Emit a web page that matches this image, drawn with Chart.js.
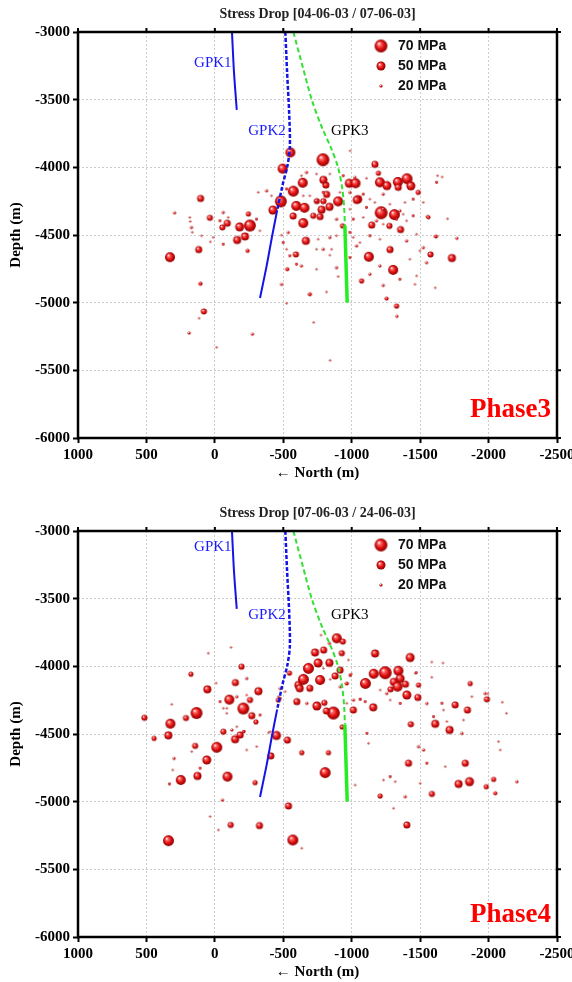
<!DOCTYPE html>
<html>
<head>
<meta charset="utf-8">
<script src="https://cdn.jsdelivr.net/npm/chart.js@4.4.1/dist/chart.umd.min.js"></script>
<style>
html, body { margin: 0; padding: 0; background: #fff; overflow: hidden; }
.box { position: absolute; left: 0; width: 572px; height: 499px; }
</style>
</head>
<body>
<div class="box" style="top:0"><canvas id="phase3" width="572" height="499"></canvas></div>
<div class="box" style="top:499px"><canvas id="phase4" width="572" height="499"></canvas></div>
<script>
// Axis ticks
const xTicks = [1000, 500, 0, -500, -1000, -1500, -2000, -2500];
const yTicks = [-3000, -3500, -4000, -4500, -5000, -5500, -6000];

// Well trajectories (North, Depth)
const gpk1X = [-125, -140, -160];
const gpk1Y = [-3000, -3300, -3575];
const gpk2DashX = [-515, -528, -543, -548, -530, -495, -455];
const gpk2DashY = [-3000, -3300, -3600, -3850, -3990, -4130, -4320];
const gpk2SolidX = [-455, -420, -378, -330];
const gpk2SolidY = [-4320, -4500, -4730, -4965];
const gpk3DashX = [-574, -640, -708, -780, -850, -900, -930, -945, -950];
const gpk3DashY = [-3000, -3250, -3500, -3700, -3860, -4000, -4150, -4300, -4430];
const gpk3SolidX = [-950, -958, -967];
const gpk3SolidY = [-4430, -4700, -5000];

// Legend
const legendMPa = [70, 50, 20];

// Phase 3 events: North (m), Depth (m), stress drop (MPa)
const p3X = [
  -552, -790, -495, -1170, -642, -573, -482, -424, -595, -655,
  -811, -982, -1028, -901, -1047, -1206, -1257, -1337, -1404, -1432,
  -1340, -1215, -1312, -780, -838, -646, -572, -719, -256, -181,
  -220, -163, -91, -55, 36, 104, 294, 328, 118, -239,
  -665, -592, -529, -933, -1125, -1303, -1280, -1357, -1146, -1276,
  -1576, -1732, -1072, -1328, -1255, 80, 105, 188, -275, -694,
  -722, -816, -1133, -1230, -1615, -1552, -1486, -1627, -1523, -1462,
  -1206, -889, -901, -487, -524, -13, -842, -1330, -988, -1661,
  -1195, -1037, -1561, -1768, -1700, -793, -817, -793, -769, -745,
  -245, 33, 180, 165, -1610, 115,
  -597, -743, -633, -840, -987, -1060, -1035, -1011, -987, -889,
  -840, -755, -499, -487, -536, -524, -548, -743, -792, -853,
  -1133, -1206, -1401, -1474, -1449, -1401, -1352, -1389, -1449, -1279,
  -1230, -1133, -1084, -1108, -1023, -840, -938, -743, -670, -633,
  -792, -694, -743, -646, -524, -414, -378, -317, -304, -329,
  -61, -97, -37, 183, 171, 12, -61, 97, -889, -987,
  -1011, -1084, -1181, -1230, -1328, -1376, -987, -914, -1108, -1169,
  -1230, -1523, -1620, -1498, -1547, -1425, -1352, -1474
];
const p3Y = [
  -3890, -3944, -4010, -3978, -4114, -4176, -4252, -4316, -4285, -4299,
  -4131, -4118, -4118, -4252, -4235, -4111, -4135, -4108, -4084, -4137,
  -4148, -4336, -4349, -4313, -4292, -4412, -4360, -4358, -4430, -4440,
  -4511, -4537, -4413, -4444, -4373, -4230, -4336, -4664, -4608, -4617,
  -4543, -4644, -4753, -4432, -4661, -4758, -4608, -4460, -4427, -4433,
  -4644, -4670, -4839, -5025, -4970, -5065, -4860, -5224, -5232, -4938,
  -5146, -4921, -4790, -4872, -4511, -4363, -4185, -4062, -4593, -4864,
  -4728, -4741, -4807, -4864, -5005, -5330, -5426, -5100, -3878, -4071,
  -4043, -4241, -4369, -4524, -4380, -4093, -4200, -4250, -4364, -4250,
  -4344, -4550, -4400, -4480, -4890, -5115,
  -4716, -4753, -4728, -4649, -4667, -4556, -4580, -4518, -4481, -4506,
  -4518, -4531, -4556, -4501, -4481, -4605, -4654, -4605, -4605, -4605,
  -4506, -4531, -4543, -4494, -4358, -4395, -4321, -4259, -4235, -4272,
  -4198, -4235, -4198, -4081, -4074, -4049, -4062, -4049, -4037, -4062,
  -4185, -4210, -4247, -4210, -4160, -4210, -4173, -4185, -4383, -4469,
  -4333, -4370, -4395, -4370, -4444, -4518, -4568, -4506, -4383, -4309,
  -4383, -4370, -4395, -4420, -4383, -4346, -4185, -4185, -4296, -4259,
  -4309, -4259, -4111, -4617, -4704, -4679, -4827, -4802
];
const p3S = [
  55, 70, 55, 40, 55, 60, 65, 50, 55, 55,
  40, 50, 55, 55, 45, 55, 50, 55, 60, 50,
  40, 70, 60, 45, 45, 55, 40, 35, 65, 50,
  45, 45, 40, 35, 35, 40, 20, 55, 40, 25,
  45, 35, 25, 30, 55, 55, 40, 40, 40, 35,
  35, 45, 30, 30, 25, 35, 25, 20, 20, 25,
  15, 15, 20, 20, 25, 20, 30, 15, 20, 15,
  20, 20, 15, 20, 15, 15, 15, 20, 15, 15,
  30, 45, 25, 20, 15, 45, 40, 35, 40, 35,
  30, 15, 15, 15, 15, 15,
  18, 15, 20, 15, 18, 15, 20, 15, 18, 15,
  20, 15, 18, 15, 20, 15, 18, 15, 20, 15,
  18, 15, 20, 15, 18, 15, 20, 15, 18, 15,
  20, 15, 18, 15, 20, 15, 18, 15, 20, 15,
  18, 15, 20, 15, 18, 15, 20, 15, 18, 15,
  20, 15, 18, 15, 20, 15, 18, 15, 20, 15,
  18, 15, 20, 15, 18, 15, 20, 15, 18, 15,
  20, 15, 18, 15, 20, 15, 18, 15
];

// Phase 4 events
const p4X = [
  -118, 48, -195, 175, -150, 55, -318, -106, -257, -208,
  134, 211, 325, 515, 340, -270, -300, -9, -464, -599,
  -610, -545, -450, -530, -62, 315, 444, -891, -935, -776,
  -732, -795, -928, -1171, -1427, -684, -755, -837, -915, -647,
  -769, -879, -620, -694, -745, -866, -800, -815, -930, -964,
  -1012, -1100, -1161, -1245, -1341, -1354, -1308, -1393, -1284, -1335,
  -1403, -1483, -1488, -1157, -1432, -1610, -1715, -1756, -1846, -1866,
  -1988, -2100, -2131, -1585, -1585, -1667, -14, 59, 144, 249,
  127, -92, -148, -185, -233, -294, -409, -635, -830, -806,
  -538, -570, 339, -116, -326, -635, -1415, -1403, -1208, -1586,
  -1830, -1781, -1861, -1983, -2037, -2049, -2207, -2073, -2085, -1306,
  35, -26, -55,
  -477, -514, -672, -392, -214, 169, 298, 308, 332, -87,
  -124, -306, 108, -843, -916, -989, -1062, -964, -1488, -1464,
  -1659, -1695, -1805, -1232, -1281, -1318, -1391, -1500, -1549, -1683,
  -1525, -1025, -1111, -1123, -837, -793, -988, -976, -1013, -1061,
  -1098, -1208, -1256, -1281, -1354, -1878, -1975, -1671, -1598, -1817,
  -1549, -62, -38, -87, -160, -233, -330, -464, -477, -404,
  -209, -160, -233, -998, -1472, -1995
];
const p4Y = [
  -3860, -3903, -4003, -4058, -4120, -4170, -4184, -4246, -4249, -4312,
  -4345, -4382, -4424, -4380, -4510, -4365, -4410, -4124, -4249, -4261,
  -4138, -4050, -4511, -4545, -4483, -4281, -4532, -3793, -3817, -3769,
  -3898, -3880, -3903, -3905, -3935, -4015, -3975, -3974, -4028, -4096,
  -4101, -4071, -4162, -4162, -4293, -4345, -4270, -4330, -4448, -4127,
  -4323, -4126, -4055, -4047, -4033, -4090, -4115, -4132, -4170, -4150,
  -4212, -4230, -4138, -4303, -4428, -4425, -4470, -4285, -4323, -4127,
  -4244, -4265, -4347, -4081, -3968, -3975, -4598, -4692, -4588, -4840,
  -4810, -4815, -4539, -4507, -4618, -4859, -4662, -4638, -4638, -4785,
  -5032, -5283, -5288, -5172, -5177, -5344, -4716, -5172, -4958, -4943,
  -4716, -4869, -4852, -4889, -4835, -4938, -4852, -4556, -4618, -5049,
  -5110, -5209, -4988,
  -4236, -4187, -4273, -4490, -4482, -4630, -4680, -4766, -4869, -4310,
  -4470, -4593, -4753, -4096, -4150, -4071, -4243, -4273, -4593, -4051,
  -4273, -4408, -4495, -4840, -4815, -4852, -4963, -4864, -4716, -4741,
  -4618, -4877, -4495, -4569, -3830, -4015, -4064, -3953, -4249, -4244,
  -4261, -4175, -4200, -4249, -4274, -4224, -4200, -4323, -4372, -4397,
  -4274, -4310, -4261, -4347, -4224, -4212, -4360, -4224, -4163, -4483,
  -4483, -4446, -4089, -4057, -4047, -4203
];
const p4S = [
  15, 15, 35, 30, 40, 45, 45, 55, 35, 65,
  65, 35, 55, 35, 45, 40, 30, 15, 30, 40,
  45, 30, 50, 40, 35, 15, 30, 55, 35, 15,
  45, 40, 35, 45, 50, 60, 50, 45, 40, 60,
  55, 40, 45, 40, 50, 70, 35, 40, 30, 25,
  40, 60, 55, 70, 55, 50, 45, 40, 35, 55,
  50, 40, 30, 45, 35, 45, 45, 40, 40, 30,
  35, 15, 15, 15, 15, 15, 60, 50, 35, 55,
  45, 55, 45, 40, 15, 30, 40, 30, 30, 60,
  40, 60, 60, 35, 40, 15, 40, 40, 30, 35,
  40, 45, 50, 30, 30, 25, 20, 15, 15, 15,
  15, 15, 20,
  18, 15, 20, 15, 18, 15, 20, 15, 18, 15,
  20, 15, 18, 15, 20, 15, 18, 15, 20, 15,
  18, 15, 20, 15, 18, 15, 20, 15, 18, 15,
  20, 15, 18, 15, 20, 15, 18, 15, 20, 15,
  18, 15, 20, 15, 18, 15, 20, 15, 18, 15,
  20, 15, 18, 15, 20, 15, 18, 15, 20, 15,
  18, 15, 20, 15, 18, 15
];

// Well name labels
const wellNames = ['GPK1', 'GPK2', 'GPK3'];
const wellColors = ['#1a1aff', '#1a1aff', '#000000'];
const wellAlign = ['right', 'right', 'left'];
const wellLabelX = [-122, -518, -849];
const wellLabelY3 = [-3233, -3730, -3730];
const wellLabelY4 = [-3116, -3621, -3621];

// radius from stress drop
function radius(s) {
    return Math.max(1, 0.097 * s - 0.35);
}

// shaded red ball, cached by size
const ballCache = {};
function ball(r) {
    const key = r.toFixed(2);
    if (ballCache[key]) return ballCache[key];
    const size = Math.ceil(r * 2 + 2);
    const c = document.createElement('canvas');
    c.width = size; c.height = size;
    const g = c.getContext('2d');
    const cx = size / 2, cy = size / 2;
    const grad = g.createRadialGradient(cx - r * 0.35, cy - r * 0.4, r * 0.05, cx, cy, r);
    grad.addColorStop(0, '#ffffff');
    grad.addColorStop(0.22, '#ff6a6a');
    grad.addColorStop(0.6, '#e01010');
    grad.addColorStop(1, '#8a0000');
    g.fillStyle = grad;
    g.beginPath();
    g.arc(cx, cy, r, 0, Math.PI * 2);
    g.fill();
    ballCache[key] = c;
    return c;
}

function pairs(xs, ys) {
    return xs.map((x, i) => ({x: x, y: ys[i]}));
}

function wellLine(xs, ys, color, width, dash) {
    return {
        data: pairs(xs, ys),
        showLine: true,
        borderColor: color,
        borderWidth: width,
        borderDash: dash,
        pointRadius: 0,
        tension: 0.3,
        order: 0
    };
}

// title, frame, legend, well names, phase text
const decorations = {
    id: 'decorations',
    afterDraw(chart, args, opts) {
        const ctx = chart.ctx;
        const a = chart.chartArea;
        const sx = chart.scales.x, sy = chart.scales.y;
        ctx.save();

        // title
        ctx.fillStyle = '#222';
        ctx.font = 'bold 14px "Liberation Serif"';
        ctx.textAlign = 'center';
        ctx.textBaseline = 'middle';
        ctx.fillText(opts.title, (a.left + a.right) / 2, 14);

        // frame + top/right ticks
        ctx.strokeStyle = '#000';
        ctx.lineWidth = 2.5;
        ctx.strokeRect(a.left, a.top, a.right - a.left, a.bottom - a.top);
        ctx.lineWidth = 2;
        ctx.beginPath();
        xTicks.forEach(v => {
            const px = sx.getPixelForValue(v);
            ctx.moveTo(px, a.top); ctx.lineTo(px, a.top - 4);
        });
        yTicks.forEach(v => {
            const py = sy.getPixelForValue(v);
            ctx.moveTo(a.right, py); ctx.lineTo(a.right + 4, py);
        });
        ctx.stroke();

        // legend
        ctx.font = 'bold 14px "Liberation Sans"';
        ctx.textAlign = 'left';
        ctx.fillStyle = '#111';
        legendMPa.forEach((m, i) => {
            const r = radius(m);
            const img = ball(r);
            const cy = a.top + 14 + i * 20;
            ctx.drawImage(img, a.left + 303 - img.width / 2, cy - img.height / 2);
            ctx.fillText(m + ' MPa', a.left + 320, cy);
        });

        // well names
        ctx.font = '15px "Liberation Serif"';
        wellNames.forEach((n, i) => {
            ctx.fillStyle = wellColors[i];
            ctx.textAlign = wellAlign[i];
            ctx.fillText(n, sx.getPixelForValue(wellLabelX[i]), sy.getPixelForValue(opts.wellY[i]));
        });

        // phase
        ctx.fillStyle = '#ff0000';
        ctx.font = 'bold 27px "Liberation Serif"';
        ctx.textAlign = 'right';
        ctx.textBaseline = 'alphabetic';
        ctx.fillText(opts.phase, a.right - 6, a.bottom - opts.phaseLift);
        ctx.restore();
    }
};

function createChart(canvasID, xs, ys, ss, title, phase, wellY, phaseLift) {
    const ctx = document.getElementById(canvasID).getContext('2d');
    const quakes = xs.map((x, i) => ({x: x, y: ys[i], s: ss[i]}));

    return new Chart(ctx, {
        type: 'scatter',
        data: {
            datasets: [
                wellLine(gpk1X, gpk1Y, '#1414e6', 2, []),
                wellLine(gpk2DashX, gpk2DashY, '#1414e6', 2.5, [4, 2]),
                wellLine(gpk2SolidX, gpk2SolidY, '#1414e6', 2, []),
                wellLine(gpk3DashX, gpk3DashY, '#33e033', 2, [5, 3]),
                wellLine(gpk3SolidX, gpk3SolidY, '#22ee22', 3.5, []),
                {
                    data: quakes,
                    pointStyle: c => ball(radius(c.raw.s)),
                    pointRadius: c => radius(c.raw.s),
                    order: 1
                }
            ]
        },
        options: {
            responsive: false,
            animation: false,
            layout: {padding: {top: 32, right: 15, bottom: 9, left: 0}},
            plugins: {
                legend: {display: false},
                tooltip: {enabled: false},
                decorations: {title: title, phase: phase, wellY: wellY, phaseLift: phaseLift}
            },
            scales: {
                x: {
                    type: 'linear',
                    reverse: true,
                    min: -2500,
                    max: 1000,
                    afterFit: s => { s.height = 52; s.paddingLeft = 0; s.paddingRight = 0; },
                    ticks: {
                        stepSize: 500,
                        color: '#000',
                        padding: 3,
                        maxRotation: 0,
                        font: {family: 'Liberation Serif', weight: 'bold', size: 15},
                        callback: v => String(v)
                    },
                    grid: {color: '#cccccc', tickColor: '#000', tickLength: 5, tickWidth: 2},
                    border: {display: false, dash: [2, 2]},
                    title: {
                        display: true,
                        text: '← North (m)',
                        color: '#000',
                        padding: {top: 0, bottom: 8},
                        font: {family: 'Liberation Serif', weight: 'bold', size: 15}
                    }
                },
                y: {
                    type: 'linear',
                    min: -6000,
                    max: -3000,
                    afterFit: s => { s.width = 78; },
                    ticks: {
                        stepSize: 500,
                        color: '#000',
                        padding: 3,
                        font: {family: 'Liberation Serif', weight: 'bold', size: 15},
                        callback: v => String(v)
                    },
                    grid: {color: '#cccccc', tickColor: '#000', tickLength: 5, tickWidth: 2},
                    border: {display: false, dash: [2, 2]},
                    title: {
                        display: true,
                        text: 'Depth (m)',
                        color: '#000',
                        padding: {top: 7, bottom: 0},
                        font: {family: 'Liberation Serif', weight: 'bold', size: 15}
                    }
                }
            }
        },
        plugins: [decorations]
    });
}

createChart('phase3', p3X, p3Y, p3S, 'Stress Drop [04-06-03 / 07-06-03]', 'Phase3', wellLabelY3, 21);
createChart('phase4', p4X, p4Y, p4S, 'Stress Drop [07-06-03 / 24-06-03]', 'Phase4', wellLabelY4, 15);
</script>
</body>
</html>
